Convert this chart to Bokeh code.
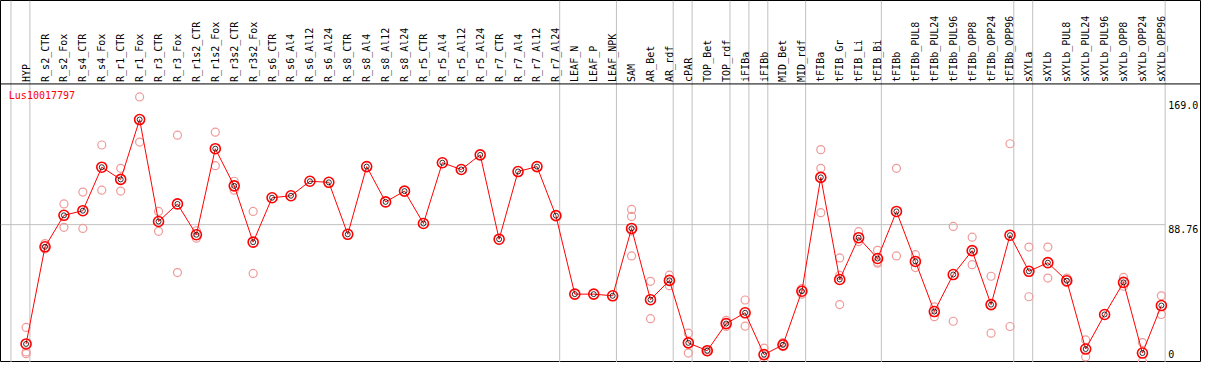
import math
from bokeh.plotting import figure
from bokeh.models import Range1d
from bokeh.core.properties import value
from bokeh.embed import file_html
from bokeh.resources import INLINE

# ---------------- data ----------------
gene_id = "Lus10017797"

categories = [
    "HYP", "R_s2_CTR", "R_s2_Fox", "R_s4_CTR", "R_s4_Fox", "R_r1_CTR", "R_r1_Fox",
    "R_r3_CTR", "R_r3_Fox", "R_r1s2_CTR", "R_r1s2_Fox", "R_r3s2_CTR", "R_r3s2_Fox",
    "R_s6_CTR", "R_s6_Al4", "R_s6_Al12", "R_s6_Al24", "R_s8_CTR", "R_s8_Al4",
    "R_s8_Al12", "R_s8_Al24", "R_r5_CTR", "R_r5_Al4", "R_r5_Al12", "R_r5_Al24",
    "R_r7_CTR", "R_r7_Al4", "R_r7_Al12", "R_r7_Al24", "LEAF_N", "LEAF_P", "LEAF_NPK",
    "SAM", "AR_Bet", "AR_rdf", "cPAR", "TOP_Bet", "TOP_rdf", "iFIBa", "iFIBb",
    "MID_Bet", "MID_rdf", "tFIBa", "tFIB_Gr", "tFIB_Li", "tFIB_Bi", "tFIBb",
    "tFIBb_PUL8", "tFIBb_PUL24", "tFIBb_PUL96", "tFIBb_OPP8", "tFIBb_OPP24",
    "tFIBb_OPP96", "sXYLa", "sXYLb", "sXYLb_PUL8", "sXYLb_PUL24", "sXYLb_PUL96",
    "sXYLb_OPP8", "sXYLb_OPP24", "sXYLb_OPP96",
]

means = [
    11.4, 74.4, 94.8, 97.8, 126.0, 118.1, 156.9, 90.8, 102.2, 82.2, 138.0, 113.9, 77.4,
    106.2, 107.5, 116.9, 116.2, 82.5, 126.4, 103.5, 110.5, 89.5, 128.9, 124.5, 134.0,
    79.3, 123.2, 126.4, 94.6, 43.7, 43.7, 42.6,
    86.3, 40.1, 52.6, 12.1, 7.0, 24.6, 31.6, 4.5, 10.8, 45.6,
    119.4, 53.2, 80.3, 66.8, 97.3, 64.9, 32.4, 56.4, 71.9, 36.9, 81.9,
    58.5, 64.1, 52.4, 8.1, 30.5, 51.3, 5.5, 36.3,
]

replicates = [
    [22.1, 6.2, 5.1], [76.5, 73.0], [102.2, 87.0], [109.9, 86.3], [140.4, 111.1],
    [125.3, 110.5], [171.6, 142.3], [97.3, 84.4], [146.8, 57.7], [84.8, 80.0],
    [148.7, 127.0], [116.9, 111.1], [97.3, 57.1],
    [], [], [], [], [], [], [], [], [], [], [], [], [], [], [], [], [], [], [],
    [98.6, 94.1, 84.6, 68.5], [52.0, 27.8], [56.0, 49.2], [18.4, 5.5], [7.6, 6.4],
    [26.7, 22.7], [39.9, 22.9], [8.7, 0.0], [12.3, 9.7], [47.3, 43.7],
    [137.4, 125.3, 96.5], [67.2, 55.8, 36.9], [84.2, 77.8], [72.1, 64.4, 63.8],
    [125.3, 68.5], [69.3, 60.9], [35.4, 29.1], [87.6, 26.1], [80.6, 62.8],
    [55.3, 18.4], [141.2, 22.7],
    [74.2, 42.0], [74.2, 54.1], [54.1, 51.1], [14.0, 3.0], [], [54.5, 48.8],
    [12.3, 0.0], [42.6, 30.5],
]

# index of the last column in each group (separator lines drawn after them)
group_last = [-1, 0, 28, 31, 34, 35, 37, 38, 39, 41, 45, 52, 53, 60]

y_ticks = [169.0, 88.76, 0.0]
y_tick_labels = ["169.0", "88.76", "0"]

# ---------------- layout ----------------
X_LEFT, X_RIGHT = -1.3526, 62.121
Y_BOTTOM, Y_TOP = -0.636, 234.1
Y_HEADER = 180.0          # separator between header labels and plot area
Y_LABEL = 181.3           # base of rotated column labels
SEP_OFF = 0.2             # separator offset to the right of a column centre
FONT = value("DejaVu Sans Mono")

n = len(categories)
xs = list(range(n))

p = figure(width=1201, height=362, x_range=Range1d(X_LEFT, X_RIGHT),
           y_range=Range1d(Y_BOTTOM, Y_TOP), output_backend="svg",
           toolbar_location=None, x_axis_location=None, y_axis_location=None,
           min_border=0)
p.grid.visible = False
p.outline_line_color = "black"
p.outline_line_width = 1
p.background_fill_color = "white"
p.border_fill_color = "white"

grid_color = "#c0c0c0"
# vertical group separators, through header too
gx = [g + SEP_OFF for g in group_last]
p.segment(x0=gx, x1=gx, y0=[Y_BOTTOM] * len(gx), y1=[Y_TOP] * len(gx),
          line_color=grid_color, line_width=1)
# horizontal gridline at middle tick
p.segment(x0=[X_LEFT], x1=[gx[-1]], y0=[y_ticks[1]], y1=[y_ticks[1]],
          line_color=grid_color, line_width=1)
# header separator
p.segment(x0=[X_LEFT], x1=[X_RIGHT], y0=[Y_HEADER], y1=[Y_HEADER],
          line_color="black", line_width=1)

# column labels
p.text(x=xs, y=[Y_LABEL] * n, text=categories, angle=math.pi / 2,
       text_align="left", text_baseline="middle", text_font=FONT,
       text_font_size="10px", text_color="black")

# replicate points
rx, ry = [], []
for i, reps in enumerate(replicates):
    for v in reps:
        rx.append(i)
        ry.append(v)
p.scatter(rx, ry, marker="circle", size=8, fill_color=None,
          line_color="#ee9a9a", line_width=1.2)

# mean line + markers
p.line(xs, means, line_color="red", line_width=1)
p.scatter(xs, means, marker="circle", size=10, fill_color=None,
          line_color="red", line_width=1.6)
p.scatter(xs, means, marker="circle", size=5, fill_color=None,
          line_color="black", line_width=0.8)

# gene id
p.text(x=[X_LEFT + 0.44], y=[176.2], text=[gene_id], text_align="left",
       text_baseline="top", text_font=FONT, text_font_size="10px",
       text_color="red")

# value labels on the right (the "0" is lifted to stay inside the frame)
p.text(x=[n - 1 + 0.36] * len(y_ticks), y=y_ticks, text=y_tick_labels,
       text_align="left", text_baseline=["top", "top", "bottom"],
       y_offset=[0, 0, -4],
       text_font=FONT, text_font_size="10px", text_color="black")

open("out.html", "w").write(file_html(p, INLINE))
